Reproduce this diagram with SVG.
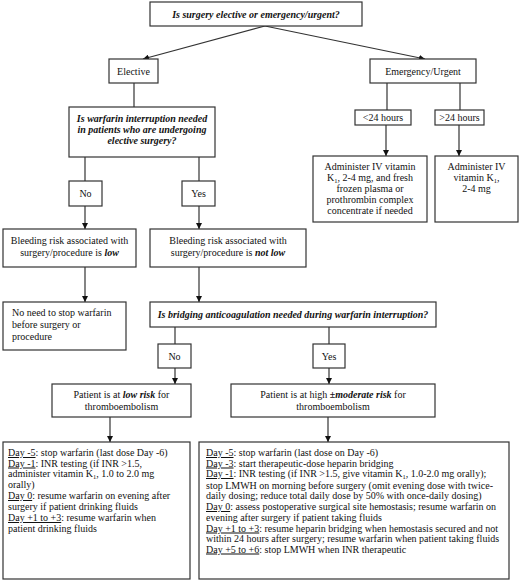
<svg xmlns="http://www.w3.org/2000/svg" width="520" height="583" viewBox="0 0 520 583">
<style>
.b{fill:#fff;stroke:#333;stroke-width:1.2}
text{font-family:"Liberation Serif","Times New Roman",serif;font-size:10px;fill:#111}
.c{text-anchor:middle}
.bi{font-weight:bold;font-style:italic}
.u{text-decoration:underline}
.s{font-size:6.5px;baseline-shift:-1.5px}
.l{stroke:#333;stroke-width:1.2;fill:none}
.a{marker-end:url(#ah)}
</style>
<defs>
<marker id="ah" viewBox="0 0 10 10" refX="10" refY="5" markerWidth="6" markerHeight="6" orient="auto" markerUnits="userSpaceOnUse"><path d="M0,0L10,5L0,10z" fill="#111"/></marker>
</defs>
<rect width="520" height="583" fill="#fff"/>
<g id="connectors">
<line class="l a" x1="265" y1="26" x2="143" y2="59"/>
<line class="l a" x1="265" y1="26" x2="425" y2="59"/>
<line class="l" x1="134" y1="83" x2="134" y2="107"/>
<line class="l" x1="387" y1="83" x2="387" y2="110"/>
<line class="l" x1="460" y1="83" x2="460" y2="110"/>
<line class="l a" x1="386" y1="125" x2="386" y2="156"/>
<line class="l a" x1="459" y1="125" x2="459" y2="156"/>
<line class="l" x1="85" y1="157" x2="85" y2="181"/>
<line class="l" x1="199" y1="157" x2="199" y2="181"/>
<line class="l a" x1="85" y1="206" x2="85" y2="229"/>
<line class="l a" x1="199" y1="206" x2="199" y2="229"/>
<line class="l a" x1="85" y1="267" x2="85" y2="302"/>
<line class="l a" x1="199" y1="267" x2="199" y2="302"/>
<line class="l" x1="175" y1="327" x2="175" y2="344"/>
<line class="l" x1="329" y1="327" x2="329" y2="344"/>
<line class="l a" x1="175" y1="368" x2="175" y2="384"/>
<line class="l a" x1="329" y1="368" x2="329" y2="384"/>
<line class="l a" x1="110" y1="417" x2="110" y2="442"/>
<line class="l a" x1="328" y1="417" x2="328" y2="442"/>
</g>
<g id="n-top"><rect class="b" x="150" y="2" width="212" height="24"/><text class="c bi" x="256" y="18">Is surgery elective or emergency/urgent?</text></g>
<g id="n-elective"><rect class="b" x="109" y="59" width="49" height="24"/><text class="c" x="133.5" y="75">Elective</text></g>
<g id="n-emergency"><rect class="b" x="370" y="59" width="106" height="24"/><text class="c" x="423" y="75">Emergency/Urgent</text></g>
<g id="n-q-interrupt"><rect class="b" x="69" y="107" width="146" height="50"/>
<text class="c bi" x="142" y="122">Is warfarin interruption needed</text>
<text class="c bi" x="142" y="133">in patients who are undergoing</text>
<text class="c bi" x="142" y="144">elective surgery?</text></g>
<g id="n-lt24"><rect class="b" x="355" y="110" width="56" height="15"/><text class="c" x="383" y="121">&lt;24 hours</text></g>
<g id="n-gt24"><rect class="b" x="435" y="110" width="49" height="15"/><text class="c" x="459.5" y="121">&gt;24 hours</text></g>
<g id="n-act-lt24"><rect class="b" x="313" y="156" width="114" height="66"/>
<text class="c" x="370" y="170">Administer IV vitamin</text>
<text class="c" x="370" y="181">K<tspan class="s">1</tspan>, 2-4 mg, and fresh</text>
<text class="c" x="370" y="192">frozen plasma or</text>
<text class="c" x="370" y="203">prothrombin complex</text>
<text class="c" x="370" y="214">concentrate if needed</text></g>
<g id="n-act-gt24"><rect class="b" x="435" y="156" width="83" height="66"/>
<text class="c" x="476.5" y="170">Administer IV</text>
<text class="c" x="476.5" y="181">vitamin K<tspan class="s">1</tspan>,</text>
<text class="c" x="476.5" y="192">2-4 mg</text></g>
<g id="n-no1"><rect class="b" x="69" y="181" width="33" height="25"/><text class="c" x="85.5" y="197">No</text></g>
<g id="n-yes1"><rect class="b" x="182" y="181" width="33" height="25"/><text class="c" x="198.5" y="197">Yes</text></g>
<g id="n-bleed-low"><rect class="b" x="3" y="229" width="133" height="38"/>
<text class="c" x="69.5" y="244">Bleeding risk associated with</text>
<text class="c" x="69.5" y="256">surgery/procedure is <tspan class="bi">low</tspan></text></g>
<g id="n-bleed-notlow"><rect class="b" x="150" y="229" width="156" height="38"/>
<text class="c" x="228" y="244">Bleeding risk associated with</text>
<text class="c" x="228" y="256">surgery/procedure is <tspan class="bi">not low</tspan></text></g>
<g id="n-noneed"><rect class="b" x="3" y="302" width="123" height="48"/>
<text x="12" y="316">No need to stop warfarin</text>
<text x="12" y="328">before surgery or</text>
<text x="12" y="340">procedure</text></g>
<g id="n-q-bridge"><rect class="b" x="150" y="302" width="286" height="25"/>
<text class="c bi" x="293" y="318">Is bridging anticoagulation needed during warfarin interruption?</text></g>
<g id="n-no2"><rect class="b" x="158" y="344" width="33" height="24"/><text class="c" x="174.5" y="360">No</text></g>
<g id="n-yes2"><rect class="b" x="313" y="344" width="32" height="24"/><text class="c" x="329" y="360">Yes</text></g>
<g id="n-lowrisk"><rect class="b" x="52" y="384" width="139" height="33"/>
<text class="c" x="121.5" y="398">Patient is at <tspan class="bi">low risk</tspan> for</text>
<text class="c" x="121.5" y="410">thromboembolism</text></g>
<g id="n-highrisk"><rect class="b" x="231" y="384" width="204" height="33"/>
<text class="c" x="333" y="398">Patient is at high <tspan class="bi">±moderate risk</tspan> for</text>
<text class="c" x="333" y="410">thromboembolism</text></g>
<g id="n-plan-low"><rect class="b" x="3" y="442" width="187" height="137"/>
<text x="8" y="456"><tspan class="u">Day -5</tspan>: stop warfarin (last dose Day -6)</text>
<text x="8" y="466.5"><tspan class="u">Day -1</tspan>: INR testing (if INR &gt;1.5,</text>
<text x="8" y="477">administer vitamin K<tspan class="s">1</tspan>, 1.0 to 2.0 mg</text>
<text x="8" y="488">orally)</text>
<text x="8" y="499"><tspan class="u">Day 0</tspan>: resume warfarin on evening after</text>
<text x="8" y="510">surgery if patient drinking fluids</text>
<text x="8" y="521"><tspan class="u">Day +1 to +3</tspan>: resume warfarin when</text>
<text x="8" y="531.5">patient drinking fluids</text></g>
<g id="n-plan-high"><rect class="b" x="199" y="442" width="310" height="137"/>
<text x="206" y="456"><tspan class="u">Day -5</tspan>: stop warfarin (last dose on Day -6)</text>
<text x="206" y="466.5"><tspan class="u">Day -3</tspan>: start therapeutic-dose heparin bridging</text>
<text x="206" y="477"><tspan class="u">Day -1</tspan>: INR testing (if INR &gt;1.5, give vitamin K<tspan class="s">1</tspan>, 1.0-2.0 mg orally);</text>
<text x="206" y="488.5">stop LMWH on morning before surgery (omit evening dose with twice-</text>
<text x="206" y="499">daily dosing; reduce total daily dose by 50% with once-daily dosing)</text>
<text x="206" y="510"><tspan class="u">Day 0</tspan>: assess postoperative surgical site hemostasis; resume warfarin on</text>
<text x="206" y="521">evening after surgery if patient taking fluids</text>
<text x="206" y="531.5"><tspan class="u">Day +1 to +3</tspan>: resume heparin bridging when hemostasis secured and not</text>
<text x="206" y="542">within 24 hours after surgery; resume warfarin when patient taking fluids</text>
<text x="206" y="552.5"><tspan class="u">Day +5 to +6</tspan>: stop LMWH when INR therapeutic</text></g>
</svg>
